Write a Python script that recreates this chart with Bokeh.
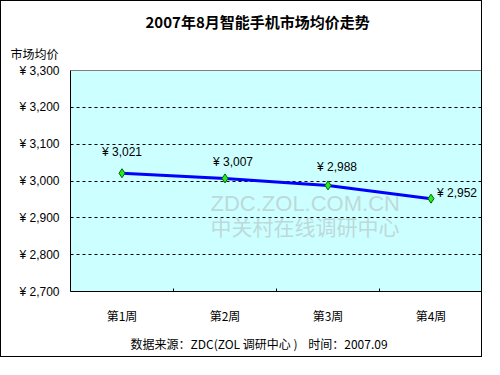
from bokeh.plotting import figure
from bokeh.models import Range1d, FixedTicker, ColumnDataSource, Label, Title
from bokeh.embed import file_html
from bokeh.resources import INLINE
from bokeh.core.properties import value

# ---- data ----
weeks = ["第1周", "第2周", "第3周", "第4周"]
prices = [3021, 3007, 2988, 2952]
price_labels = ["¥ 3,021", "¥ 3,007", "¥ 2,988", "¥ 2,952"]
y_ticks = [2700, 2800, 2900, 3000, 3100, 3200, 3300]
y_tick_labels = ["¥ 2,700", "¥ 2,800", "¥ 2,900", "¥ 3,000", "¥ 3,100", "¥ 3,200", "¥ 3,300"]
title_text = "2007年8月智能手机市场均价走势"
ylabel_text = "市场均价"
footer_text = "数据来源：ZDC(ZOL\u00a0调研中心\u00a0)\u00a0\u00a0\u00a0\u00a0时间：2007.09"
watermark1 = "ZDC.ZOL.COM.CN"
watermark2 = "中关村在线调研中心"

# ---- layout ----
W, H = 482, 357
L, R = 69, 1
CJK = "Noto Sans CJK SC"
NUM = "Liberation Sans"

xs = [i + 0.5 for i in range(len(weeks))]
bounds = [i for i in range(1, len(weeks))]

p = figure(width=W, height=H, output_backend="svg", toolbar_location=None,
           x_range=Range1d(0, len(weeks)), y_range=Range1d(y_ticks[0], y_ticks[-1]),
           min_border_left=L, min_border_right=R, min_border_top=0, min_border_bottom=0)
p.styles = {"border": "1px solid black"}
p.background_fill_color = "#CCFFFF"
p.border_fill_color = "white"
p.outline_line_color = "#808080"
p.outline_line_width = 1
p.title.text = ""
p.title.visible = False

# titles (closest to frame first)
p.add_layout(Title(text=ylabel_text, align="left", offset=-(L - 9), vertical_align="top",
                   text_font=CJK, text_font_size="12px", text_font_style="normal",
                   text_color="black", standoff=13), "above")
p.add_layout(Title(text=title_text, align="left", offset=75, vertical_align="bottom",
                   text_font=CJK, text_font_size="15px", text_font_style="bold",
                   text_color="black", standoff=14), "above")
p.add_layout(Title(text=footer_text, align="left", offset=60,
                   text_font=CJK, text_font_size="12px", text_font_style="normal",
                   text_color="black", standoff=13), "below")

# axes
p.xaxis.ticker = FixedTicker(ticks=xs, minor_ticks=bounds)
p.xaxis.major_label_overrides = {x: w for x, w in zip(xs, weeks)}
p.xaxis.major_tick_line_color = None
p.xaxis.minor_tick_in = 3
p.xaxis.minor_tick_out = 0
p.xaxis.minor_tick_line_color = "black"
p.xaxis.axis_line_color = "black"
p.xaxis.major_label_text_font = CJK
p.xaxis.major_label_text_font_size = "12px"
p.xaxis.major_label_text_color = "black"
p.xaxis.major_label_standoff = 9

p.yaxis.ticker = FixedTicker(ticks=y_ticks)
p.yaxis.major_label_overrides = {t: s for t, s in zip(y_ticks, y_tick_labels)}
p.yaxis.major_tick_in = 0
p.yaxis.major_tick_out = 0
p.yaxis.minor_tick_line_color = None
p.yaxis.axis_line_color = "black"
p.yaxis.major_label_text_font = NUM
p.yaxis.major_label_text_font_size = "12px"
p.yaxis.major_label_text_color = "black"
p.yaxis.major_label_standoff = 11

p.xgrid.grid_line_color = None
p.ygrid.ticker = FixedTicker(ticks=y_ticks[1:-1])
p.ygrid.grid_line_color = "black"
p.ygrid.grid_line_dash = "3 3"
p.ygrid.grid_line_width = 1

# watermark (screen units relative to the frame's lower-left corner)
p.add_layout(Label(x=140, y=88, x_units="screen", y_units="screen", text=watermark1,
                   text_font=NUM, text_font_size="22px", text_color="#b8c8c8",
                   text_alpha=0.7, text_baseline="middle", text_align="left"))
p.add_layout(Label(x=140, y=66, x_units="screen", y_units="screen", text=watermark2,
                   text_font=CJK, text_font_size="21px", text_color="#b8c8c8",
                   text_alpha=0.7, text_baseline="middle", text_align="left"))

# series
src = ColumnDataSource(dict(x=xs, y=prices, lab=price_labels,
                            dx=[0, 8, 9, 6], dy=[-21, -16, -18, -6],
                            align=["center", "center", "center", "left"]))
p.line("x", "y", source=src, line_color="#0000FF", line_width=3)
p.scatter("x", "y", source=src, marker="diamond", size=9,
          fill_color="#22EE22", line_color="#006600", line_width=1)
p.text("x", "y", text="lab", source=src, x_offset="dx", y_offset="dy",
       text_align="align", text_baseline="middle",
       text_font=value(NUM), text_font_size="12px", text_color="black")

open("out.html", "w").write(file_html(p, INLINE))
